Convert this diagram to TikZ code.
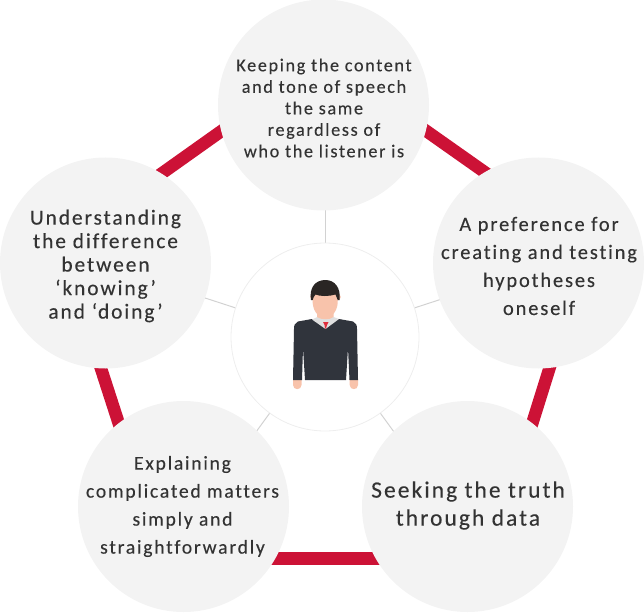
\documentclass[tikz,border=0pt]{standalone}
\usepackage{fontspec}
\setmainfont[LetterSpace=9, FakeBold=0.25, Ligatures=NoCommon]{Carlito}
\definecolor{barred}{HTML}{CC1236}
\definecolor{topicgray}{HTML}{F3F3F3}
\definecolor{spokegray}{HTML}{D2D2D2}
\definecolor{rimgray}{HTML}{EEEEEE}
\definecolor{inkgray}{HTML}{333333}
\definecolor{sweater}{HTML}{30343C}
\definecolor{skin}{HTML}{F8C3AB}
\definecolor{hair}{HTML}{2A2624}
\definecolor{collar}{HTML}{DFDFDF}
\definecolor{tie}{HTML}{DE2D3C}
\tikzset{
    topic/.style={circle, fill=topicgray, minimum size=211pt, inner sep=0pt},
    caption/.style={align=center, text=inkgray, inner sep=0pt},
    bar/.style={barred, line width=12.5pt},
    spoke/.style={spokegray, line width=1pt}
}
\begin{document}
\begin{tikzpicture}[x=1pt, y=-1pt]
    \useasboundingbox (0, 0) rectangle (644, 612);
    %pentagon behind the circles
    \coordinate (ptop) at (323.5, 58.5);
    \coordinate (pright) at (588, 245);
    \coordinate (pbr) at (490, 558.5);
    \coordinate (pbl) at (162.5, 558.5);
    \coordinate (pleft) at (61, 245);
    \draw[bar] (ptop) -- (pright);
    \draw[bar] (pright) -- (pbr);
    \draw[bar] (pbr) -- (pbl);
    \draw[bar] (pbl) -- (pleft);
    \draw[bar] (pleft) -- (ptop);
    %spokes end under the circles
    \coordinate (hub) at (325, 337);
    \coordinate (stop) at (325, 187);
    \coordinate (sright) at (467.7, 290.6);
    \coordinate (sbr) at (413.2, 458.4);
    \coordinate (sbl) at (236.8, 458.4);
    \coordinate (sleft) at (182.3, 290.6);
    \draw[spoke] (hub) -- (stop);
    \draw[spoke] (hub) -- (sright);
    \draw[spoke] (hub) -- (sbr);
    \draw[spoke] (hub) -- (sbl);
    \draw[spoke] (hub) -- (sleft);
    %topics
    \node[topic] (listener) at (323.5, 105) {};
    \node[topic] (hypotheses) at (538.5, 263) {};
    \node[topic] (truth) at (467.5, 506.5) {};
    \node[topic] (explain) at (183.5, 506.5) {};
    \node[topic] (knowing) at (105.5, 263) {};
    \node[caption, font=\fontsize{18.2}{21.5}\selectfont] (listenertext) at (324, 108) {Keeping the content\\and tone of speech\\the same\\regardless of\\who the listener is};
    \node[caption, font=\fontsize{20.5}{28}\selectfont] (hypothesestext) at (539, 266) {A preference for\\creating and testing\\hypotheses\\oneself};
    \node[caption, font=\fontsize{23.4}{28}\selectfont] (truthtext) at (468, 505.5) {Seeking the truth\\through data};
    \node[caption, font=\fontsize{19.6}{28}\selectfont] (explaintext) at (182.5, 506.5) {Explaining\\complicated matters\\simply and\\straightforwardly};
    \node[caption, font=\fontsize{21.4}{23.5}\selectfont] (knowingtext) at (105.5, 266) {Understanding\\the difference\\between\\‘knowing’\\and ‘doing’};
    \node[circle, draw=rimgray, fill=white, line width=.8pt, minimum size=188pt] (center) at (hub) {};
    %person
    \fill[skin] (293, 378) -- (301.5, 378) -- (301.5, 385) .. controls (301.5, 390.5) and (293, 390.5) .. (293, 385) -- cycle;
    \fill[skin] (349.7, 378) -- (358, 378) -- (358, 385) .. controls (358, 390.5) and (349.7, 390.5) .. (349.7, 385) -- cycle;
    \fill[sweater] (312, 319) -- (298, 321.5) .. controls (295, 323) and (294, 325) .. (294, 329)
        -- (293, 380) -- (302, 380) -- (303, 348) -- (305, 380) -- (346, 380)
        -- (348, 348) -- (349.5, 380) -- (358, 380) -- (357, 329)
        .. controls (357, 325) and (356, 323) .. (353, 321.5) -- (339, 319) -- cycle;
    \fill[collar] (312, 319.5) -- (317.5, 317) -- (333.5, 317) -- (339, 319) -- (325.5, 329) -- cycle;
    \fill[skin] (317, 308) -- (333.5, 308) -- (333.5, 317) .. controls (330, 320) and (321, 320) .. (317, 317) -- cycle;
    \fill[tie] (323, 322) -- (328.5, 322) -- (327, 325) -- (326, 328.5) -- (325, 328.5) -- (324.5, 325) -- cycle;
    \fill[skin] (325.5, 297) ellipse (15.3 and 6);
    \fill[skin] (312.7, 288) -- (337.7, 288) -- (337.7, 303) .. controls (337, 313) and (330, 318) .. (325.2, 318)
        .. controls (320, 318) and (313.5, 313) .. (312.7, 303) -- cycle;
    \fill[hair] (311, 300) .. controls (309, 288) and (315, 280) .. (325.3, 280)
        .. controls (335, 280) and (341, 288) .. (339.5, 300)
        -- (337.7, 300) .. controls (337, 298) and (336.5, 296.5) .. (335.5, 294.5)
        .. controls (329, 296.5) and (320, 296.5) .. (315.5, 294.5)
        .. controls (314, 296.5) and (313, 298) .. (312.7, 300) -- cycle;
\end{tikzpicture}
\end{document}
